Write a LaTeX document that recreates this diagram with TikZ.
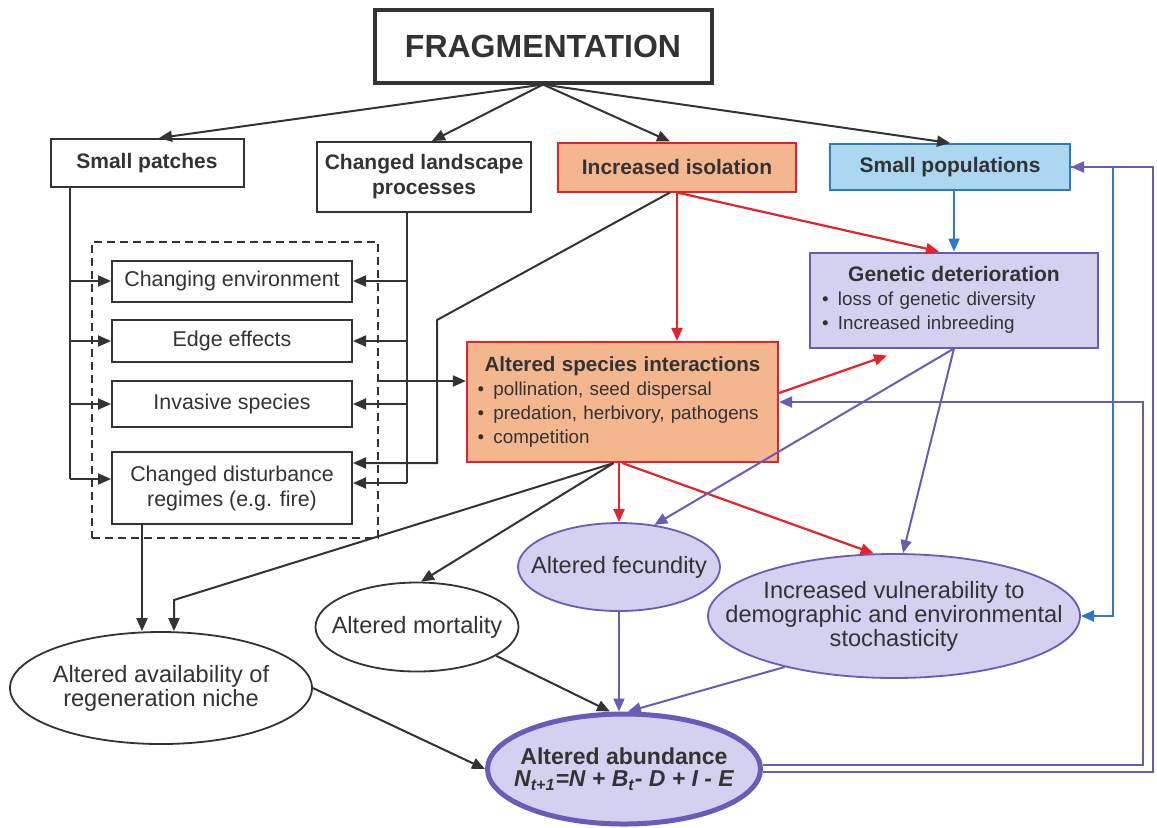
\documentclass[tikz,border=0pt]{standalone}
\usepackage{fontspec}
\setmainfont{Liberation Sans}
\usetikzlibrary{arrows.meta,shapes.geometric}

\definecolor{ink}{HTML}{333333}
\definecolor{isored}{HTML}{E3222B}
\definecolor{isofill}{HTML}{F4B68F}
\definecolor{popblue}{HTML}{2D79C9}
\definecolor{popfill}{HTML}{ABD7F0}
\definecolor{genpurple}{HTML}{6A5BB8}
\definecolor{genfill}{HTML}{D3D0F0}

\newcommand{\bul}{\makebox[8pt][l]{\textbullet}}

\tikzset{
  box/.style={draw=ink, line width=1pt, fill=white, inner sep=0pt, align=center, text=ink},
  lab/.style={font=\fontsize{10.5}{12.5}\selectfont\bfseries},
  effect/.style={box, minimum width=120pt, font=\fontsize{10.7}{12.5}\selectfont},
  ell/.style={ellipse, draw=ink, line width=0.9pt, fill=white, inner sep=0pt},
  pell/.style={ell, draw=genpurple, fill=genfill},
  etxt/.style={align=center, text=ink, font=\fontsize{11.8}{10}\selectfont},
  blk/.style={->, draw=ink, line width=1pt},
  redarr/.style={->, draw=isored, line width=1.1pt},
  purarr/.style={->, draw=genpurple, line width=1pt},
  bluarr/.style={->, draw=popblue, line width=1pt}
}

\begin{document}
\begin{tikzpicture}[x=0.5pt,y=-0.5pt, >={Triangle[length=6.5pt,width=5.5pt]}]
\useasboundingbox (0,0) rectangle (1157,827);

% top row
\node [box, line width=2pt, minimum width=168.5pt, minimum height=36.5pt,
  font=\fontsize{16}{18}\selectfont\bfseries] (frag) at (543,46) {FRAGMENTATION};
\node [box, lab, minimum width=96.5pt, minimum height=24pt] (patches) at (147,163) {Small patches};
\node [box, lab, minimum width=107pt, minimum height=35pt] (landscape) at (424,177) {Changed landscape\\processes};
\node [box, lab, draw=isored, fill=isofill, minimum width=119pt, minimum height=24.5pt] (isolation) at (677,167) {Increased isolation};
\node [box, lab, draw=popblue, fill=popfill, minimum width=120pt, minimum height=23pt] (smallpop) at (950,167) {Small populations};

% dashed group
\node [draw=ink, line width=0.8pt, dash pattern=on 4pt off 2.5pt, minimum width=143pt, minimum height=148pt, inner sep=0pt] (grp) at (235,390) {};
\node [effect, minimum height=20.5pt] (env) at (232,281) {Changing environment};
\node [effect, minimum height=21pt] (edge) at (232,341) {Edge effects};
\node [effect, minimum height=23pt] (inv) at (232,404) {Invasive species};
\node [effect, minimum height=36pt] (dist) at (232,488) {Changed disturbance\\regimes (e.g. fire)};

% middle boxes
\node [box, draw=isored, fill=isofill, line width=1.1pt, minimum width=155.5pt, minimum height=60pt,
  inner xsep=5pt, text width=145pt, align=left, font=\fontsize{9.4}{12}\selectfont] (species) at (622.5,402)
  {{\centering\fontsize{10.3}{12}\selectfont\bfseries Altered species interactions\par}
   \bul pollination, seed dispersal\\
   \bul predation, herbivory, pathogens\\
   \bul competition};
\node [box, draw=genpurple, fill=genfill, minimum width=144pt, minimum height=47.5pt,
  inner xsep=6pt, text width=132pt, align=left, font=\fontsize{9.4}{12}\selectfont] (genetic) at (954,300)
  {{\centering\fontsize{10.5}{12.5}\selectfont\bfseries Genetic deterioration\par}
   \bul loss of genetic diversity\\
   \bul Increased inbreeding};

% ellipses
\node [ell, minimum width=151pt, minimum height=56pt,
  label={[etxt]center:Altered availability of\\regeneration niche}] (regen) at (161,688) {};
\node [ell, minimum width=101.5pt, minimum height=44.5pt,
  label={[etxt]center:Altered mortality}] (mort) at (417,627) {};
\node [pell, minimum width=101pt, minimum height=44pt,
  label={[etxt]center:Altered fecundity}] (fec) at (619,567) {};
\node [pell, minimum width=186pt, minimum height=62pt,
  label={[etxt]center:Increased vulnerability to\\demographic and environmental\\stochasticity}] (vuln) at (894,616) {};
\node [pell, line width=2.5pt, minimum width=136.5pt, minimum height=55pt,
  label={[etxt, font=\fontsize{11.5}{11}\selectfont\bfseries]center:Altered abundance\\
  \itshape N\textsubscript{t+1}=N + B\textsubscript{t}- D + I - E}] (abund) at (624,769) {};

\coordinate (lt) at (70,479);
\coordinate (rt) at (407,483);
\coordinate (ib) at (437,320);
\coordinate (rb) at (174,600);
\coordinate (bl) at (1113,0);
\coordinate (pin) at (1143,0);
\coordinate (pout) at (1153,0);

% from fragmentation
\draw [blk] (frag.south) -- ([xshift=6pt]patches.north);
\draw [blk] (frag.south) -- ([xshift=4pt]landscape.north);
\draw [blk] (frag.south) -- ([xshift=-3.5pt]isolation.north);
\draw [blk] (frag.south) -- (smallpop.north);

% into the dashed group
\draw [ink, line width=1pt] (patches.south -| lt) -- (lt);
\foreach \b in {env,edge,inv}
  \draw [blk] (lt |- \b.west) -- (\b.west);
\draw [blk] (lt) -- (lt -| dist.west);
\draw [ink, line width=1pt] (landscape.south -| rt) -- (rt);
\foreach \b in {env,edge,inv}
  \draw [blk] (rt |- \b.east) -- (\b.east);
\draw [blk] (rt) -- (rt -| dist.east);
\draw [blk] ([xshift=-3.5pt]isolation.south) -- (ib) |- ([yshift=12.5pt]dist.east);
\draw [blk] ([yshift=4.5pt]grp.east) -- ([yshift=4.5pt]grp.east -| species.west);

% isolation and small populations
\draw [redarr] (isolation.south) -- (isolation.south |- species.north);
\draw [redarr] (isolation.south) -- ([xshift=-7.5pt]genetic.north);
\draw [bluarr] (smallpop.south -| genetic.north) -- (genetic.north);
\draw [redarr] ([yshift=4.5pt]species.east) -- ([xshift=-33.5pt,yshift=-3.5pt]genetic.south);

% down to the ellipses
\draw [redarr] (species.south -| fec.north) -- (fec.north);
\draw [redarr] (species.south) -- (vuln.108);
\draw [purarr] (genetic.south) -- (fec.50);
\draw [purarr] (genetic.south) -- ([xshift=4.5pt]vuln.north);
\draw [blk] ([xshift=-4.5pt]species.south) -- ([xshift=2pt]mort.north);
\draw [blk] ([xshift=-4.5pt]species.south) -- (rb) -- (rb |- regen.north);
\draw [blk] ([xshift=-45pt]dist.south) coordinate (ds) -- (ds |- regen.north);

% into abundance
\draw [blk] (regen.east) -- (abund.west);
\draw [blk] (mort.-20) -- ([xshift=-7pt]abund.north);
\draw [purarr] (fec.south) -- (fec.south |- abund.north);
\draw [purarr] (vuln.205) -- ([xshift=2pt]abund.north);

% feedback on the right
\draw [bluarr] (smallpop.east) -| (bl |- vuln.east) -- (vuln.east);
\draw [purarr] ([yshift=-1.5pt]abund.east) -| (pout |- smallpop.east) -- (smallpop.east);
\draw [purarr] ([yshift=2pt]abund.east) -| (pin |- species.east) -- (species.east);
\end{tikzpicture}
\end{document}
